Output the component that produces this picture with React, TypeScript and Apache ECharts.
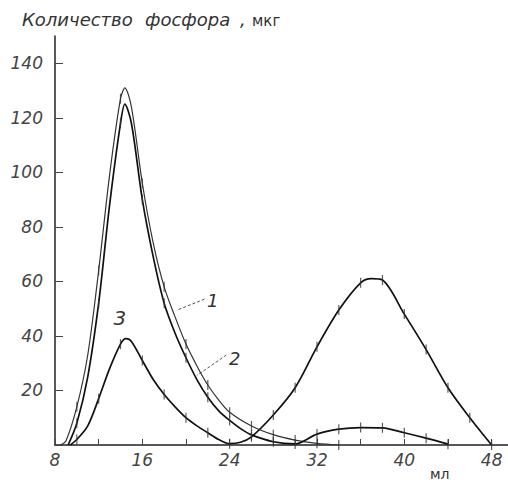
import React, { useEffect, useRef } from "react";
import * as echarts from "echarts";

// x in ml, y in µg of phosphorus
const curve1: [number, number][] = [
  [8.5, 0], [9, 1.5], [10, 14], [11, 33], [12, 64], [13, 99], [14, 127], [14.4, 131], [15, 124],
  [16, 96], [17, 74], [18, 58], [19, 47], [20, 37], [21, 29], [22, 22], [23, 16.5], [24, 12],
  [26, 7], [28, 3.8], [30, 1.8], [32, 0.6], [34, 0],
];
const curve2: [number, number][] = [
  [9.2, 0], [10, 8], [11, 25], [12, 52], [13, 88], [14, 118], [14.4, 125], [15, 118],
  [16, 90], [17, 69], [18, 52], [19, 41], [20, 32], [21, 24], [22, 17.5], [23, 12.5], [24, 9],
  [25, 6], [26, 3.7], [28, 1.2], [30, 0.4], [32, 4], [34, 5.8], [36, 6.4], [38, 6.3],
  [40, 4.5], [42, 2.5], [44, 0.3],
];
const curve3: [number, number][] = [
  [9.4, 0], [10, 2], [11, 7], [12, 17], [13, 28], [14, 37], [14.5, 39], [15, 38], [16, 31],
  [17, 24], [18, 18.5], [19, 14], [20, 10], [21, 7], [22, 4.5], [23, 2], [24, 0.5], [25, 1],
  [26, 3], [28, 11], [30, 21], [32, 36], [34, 49.5], [36, 59.5], [37, 61], [38, 60.5],
  [40, 48], [42, 35], [44, 21], [46, 10], [48, 0],
];
const curveNames = ["1", "2", "3"];
const labelPos: [number, number][] = [[22.45, 53.1], [24.47, 31.9], [13.95, 46.5]];
const leaders: [number, number, number, number][] = [
  [21.7, 53.5, 19.2, 49.5],
  [23.7, 33.0, 21.0, 25.5],
];
const xMin = 8;
const xMax = 49.5;
const yMax = 150;

const marks = (d: [number, number][]) => d.filter(([x]) => x >= 10 && Math.abs(x % 2) < 1e-9);

export default function App() {
  const ref = useRef<HTMLDivElement>(null);
  useEffect(() => {
    const chart = echarts.init(ref.current!, null, { renderer: "svg" });
    const lineBase = { type: "line", smooth: 0.3, showSymbol: false, z: 3 } as any;
    const markBase = {
      type: "scatter",
      symbol: "rect",
      symbolSize: [1.2, 10],
      itemStyle: { color: "#333" },
      z: 4,
    } as any;
    chart.setOption({
      animation: false,
      backgroundColor: "#fff",
      grid: { left: 55, right: 0, top: 36, bottom: 40 },
      xAxis: {
        type: "value",
        min: xMin,
        max: xMax,
        interval: 4,
        axisLine: { lineStyle: { color: "#222", width: 1.5 } },
        axisTick: { inside: true, length: 6, lineStyle: { color: "#444" } },
        splitLine: { show: false },
        axisLabel: {
          margin: 6,
          fontSize: 17,
          fontStyle: "italic",
          fontWeight: 300,
          fontFamily: "DejaVu Sans",
          color: "#444",
          showMaxLabel: false,
          formatter: (v: number) => (v % 8 === 0 ? String(v) : ""),
        },
      },
      yAxis: {
        type: "value",
        min: 0,
        max: yMax,
        interval: 20,
        axisLine: { lineStyle: { color: "#222", width: 1.5 } },
        axisTick: { inside: true, length: 8, lineStyle: { color: "#444" } },
        splitLine: { show: false },
        axisLabel: {
          margin: 12,
          fontSize: 17,
          fontStyle: "italic",
          fontWeight: 300,
          fontFamily: "DejaVu Sans",
          color: "#444",
          showMaxLabel: false,
          formatter: (v: number) => (v > 0 && v % 20 === 0 ? String(v) : ""),
        },
      },
      series: [
        { ...lineBase, name: curveNames[0], data: curve1, lineStyle: { color: "#333", width: 1.2 } },
        { ...lineBase, name: curveNames[1], data: curve2, lineStyle: { color: "#111", width: 1.7 } },
        { ...lineBase, name: curveNames[2], data: curve3, lineStyle: { color: "#111", width: 1.7 } },
        { ...markBase, data: marks(curve1) },
        { ...markBase, data: marks(curve2) },
        { ...markBase, data: marks(curve3) },
      ],
    });
    const px = (p: [number, number]) => chart.convertToPixel({ gridIndex: 0 }, p) as number[];
    const graphics: any[] = [
      { type: "text", x: 22, y: 19, style: { text: "Количество", font: 'italic 18px "DejaVu Sans"', fill: "#333", textVerticalAlign: "middle" } },
      { type: "text", x: 145, y: 19, style: { text: "фосфора", font: 'italic 18px "DejaVu Sans"', fill: "#333", textVerticalAlign: "middle" } },
      { type: "text", x: 240, y: 19, style: { text: ",", font: 'italic 18px "DejaVu Sans"', fill: "#333", textVerticalAlign: "middle" } },
      { type: "text", x: 252, y: 21, style: { text: "мкг", font: '15px "DejaVu Sans"', fill: "#333", textVerticalAlign: "middle" } },
      { type: "text", x: 430, y: 474, style: { text: "мл", font: '14px "DejaVu Sans"', fill: "#333", textVerticalAlign: "middle" } },
    ];
    curveNames.forEach((n, i) => {
      const p = px(labelPos[i]);
      graphics.push({
        type: "text",
        x: p[0],
        y: p[1],
        style: {
          text: n,
          font: `italic ${i === 2 ? 20 : 18}px "DejaVu Sans"`,
          fill: "#333",
          textVerticalAlign: "middle",
          textAlign: "center",
        },
      });
    });
    leaders.forEach((l) => {
      const a = px([l[0], l[1]]);
      const b = px([l[2], l[3]]);
      graphics.push({
        type: "line",
        shape: { x1: a[0], y1: a[1], x2: b[0], y2: b[1] },
        style: { stroke: "#555", lineWidth: 1, lineDash: [3, 2] },
      });
    });
    chart.setOption({ graphic: graphics });
    return () => chart.dispose();
  }, []);
  return <div ref={ref} style={{ position: "fixed", left: 0, top: 0, width: 508, height: 485 }} />;
}
